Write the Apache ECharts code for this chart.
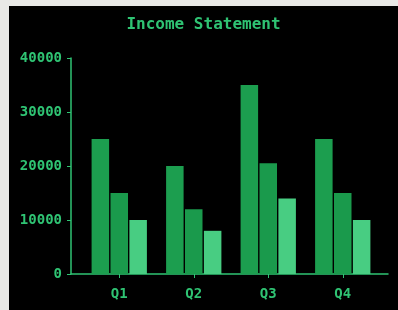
<!DOCTYPE html>
<html>
<head>
<meta charset="utf-8">
<script src="https://cdn.jsdelivr.net/npm/echarts@6/dist/echarts.min.js"></script>
<style>
  html, body { margin: 0; padding: 0; background: #e9e9e6; }
  #chart { position: absolute; left: 9px; top: 6px; width: 389px; height: 304px; background: #000; }
</style>
</head>
<body>
<div id="chart"></div>
<script>
// quarters on the x axis
var quarters = ['Q1', 'Q2', 'Q3', 'Q4'];
// three series
var seriesA = [25000, 20000, 35000, 25000];
var seriesB = [15000, 12000, 20500, 15000];
var seriesC = [10000, 8000, 14000, 10000];
var yTicks = [0, 10000, 20000, 30000, 40000];

var green = '#2fc373';
var font = 'DejaVu Sans Mono';

var chart = echarts.init(document.getElementById('chart'));

var option = {
  backgroundColor: '#000',
  animation: false,
  title: {
    text: 'Income Statement',
    left: 'center',
    top: 6,
    textStyle: { color: green, fontFamily: font, fontWeight: 'bold', fontSize: 16 }
  },
  grid: [
    // bars
    { left: 73, right: 18, top: 52, bottom: 36 },
    // axis lines only
    { left: 62, right: 10, top: 52, bottom: 36 }
  ],
  xAxis: [
    {
      type: 'category',
      gridIndex: 0,
      data: quarters,
      axisLine: { show: false },
      axisTick: { show: true, alignWithLabel: true, length: 4, lineStyle: { color: green } },
      axisLabel: { color: green, fontFamily: font, fontWeight: 'bold', fontSize: 14, margin: 13 }
    },
    {
      type: 'value',
      gridIndex: 1,
      min: 0,
      max: 1,
      axisLine: { show: true, lineStyle: { color: green, width: 1.5 } },
      axisTick: { show: false },
      axisLabel: { show: false },
      splitLine: { show: false }
    }
  ],
  yAxis: [
    {
      type: 'value',
      gridIndex: 0,
      min: 0,
      max: 40000,
      interval: 10000,
      show: false,
      splitLine: { show: false }
    },
    {
      type: 'value',
      gridIndex: 1,
      min: yTicks[0],
      max: yTicks[yTicks.length - 1],
      interval: 10000,
      axisLine: { show: true, lineStyle: { color: green, width: 1.5 } },
      axisTick: { show: true, length: 4, lineStyle: { color: green } },
      axisLabel: {
        color: green, fontFamily: font, fontWeight: 'bold', fontSize: 14, margin: 9,
        formatter: function (v) { return String(v); }
      },
      splitLine: { show: false }
    }
  ],
  series: [
    {
      type: 'bar', xAxisIndex: 0, yAxisIndex: 0,
      data: seriesA, barWidth: 17.5, barGap: '8%',
      itemStyle: { color: '#1c9e4f' }
    },
    {
      type: 'bar', xAxisIndex: 0, yAxisIndex: 0,
      data: seriesB, barWidth: 17.5, barGap: '8%',
      itemStyle: { color: '#1a9a4c' }
    },
    {
      type: 'bar', xAxisIndex: 0, yAxisIndex: 0,
      data: seriesC, barWidth: 17.5, barGap: '8%',
      itemStyle: { color: '#48cd82' }
    }
  ]
};

chart.setOption(option);
</script>
</body>
</html>
